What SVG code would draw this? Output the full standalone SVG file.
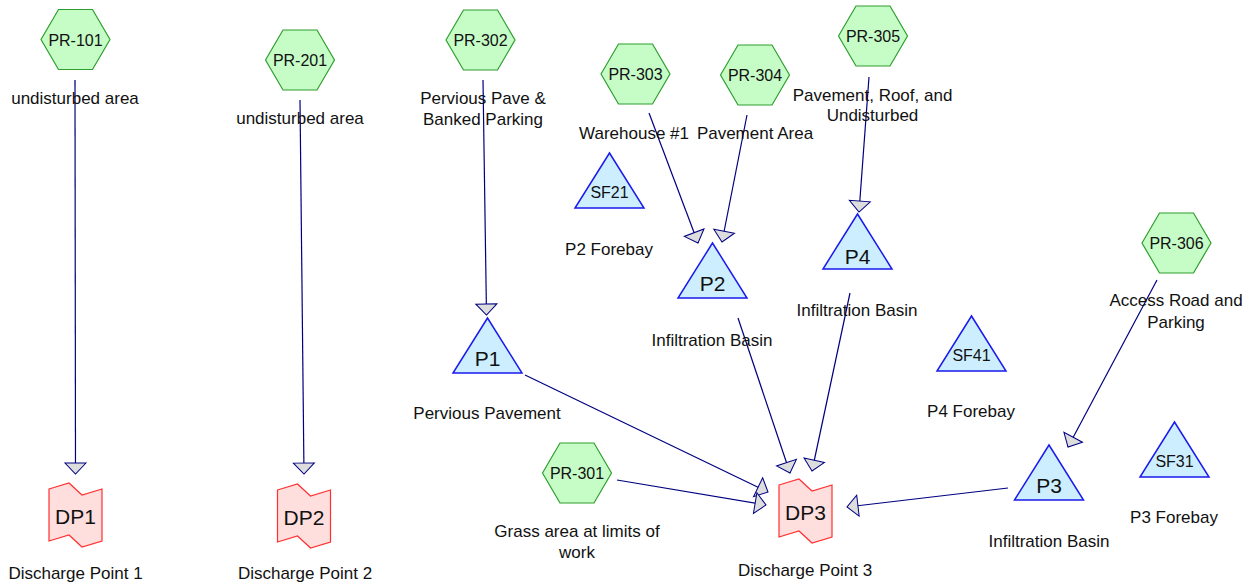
<svg xmlns="http://www.w3.org/2000/svg" width="1256" height="586" viewBox="0 0 1256 586">
<style>
.hex{fill:#c6fcc6;stroke:#2e9e2e;stroke-width:1.2}
.tri{fill:#cdeeff;stroke:#1a1aee;stroke-width:1.5}
.dp{fill:#ffdede;stroke:#ff3030;stroke-width:1.2}
.c{stroke:#000080;stroke-width:1.2;fill:none;marker-end:url(#ah)}
text{font-family:"Liberation Sans",Arial,sans-serif;fill:#111;text-anchor:middle}
.n{font-size:16px}
.b{font-size:21px}
.l{font-size:17px}
</style>
<defs>
<marker id="ah" viewBox="0 -12 13 24" markerWidth="13" markerHeight="24" refX="11" refY="0" orient="auto" markerUnits="userSpaceOnUse" overflow="visible">
<path d="M0,-10.5 L11,0 L0,10.5 Z" fill="#dddddd" stroke="#000080" stroke-width="1"/>
</marker>
<polygon id="hexs" points="-34.5,0 -17,-30 17,-30 34.5,0 17,30 -17,30"/>
<polygon id="tris" points="0,0 -34.5,55 34.5,55"/>
<polygon id="dps" points="-26.5,-26 -6.5,-32 6.5,-20 26.5,-26 26.5,26 6.5,32 -6.5,20 -26.5,26"/>
</defs>
<rect width="1256" height="586" fill="#ffffff"/>
<g id="connectors">
<line class="c" x1="75" y1="80" x2="75.5" y2="474"/>
<line class="c" x1="300" y1="100" x2="304" y2="474"/>
<line class="c" x1="483" y1="80" x2="486.5" y2="315"/>
<line class="c" x1="649" y1="113" x2="698" y2="243"/>
<line class="c" x1="747" y1="115" x2="722" y2="242"/>
<line class="c" x1="869" y1="77" x2="859" y2="212"/>
<line class="c" x1="1157" y1="280" x2="1068" y2="447"/>
<line class="c" x1="525" y1="375" x2="768" y2="492"/>
<line class="c" x1="617" y1="480" x2="766" y2="505"/>
<line class="c" x1="738" y1="318" x2="790" y2="473"/>
<line class="c" x1="850" y1="293" x2="812" y2="471"/>
<line class="c" x1="1008" y1="488" x2="847" y2="507"/>
</g>
<g id="PR-101"><use href="#hexs" class="hex" x="75.5" y="39.5"/><text class="n" x="75.5" y="45.5">PR-101</text><text class="l" x="75" y="104">undisturbed area</text></g>
<g id="PR-201"><use href="#hexs" class="hex" x="300" y="60"/><text class="n" x="300" y="66">PR-201</text><text class="l" x="300" y="124">undisturbed area</text></g>
<g id="PR-302"><use href="#hexs" class="hex" x="480.5" y="40"/><text class="n" x="480.5" y="46">PR-302</text><text class="l" x="483" y="104">Pervious Pave &amp;</text><text class="l" x="483" y="125">Banked Parking</text></g>
<g id="PR-303"><use href="#hexs" class="hex" x="635.5" y="74"/><text class="n" x="635.5" y="80">PR-303</text><text class="l" x="634" y="139">Warehouse #1</text></g>
<g id="PR-304"><use href="#hexs" class="hex" x="755" y="75"/><text class="n" x="755" y="81">PR-304</text><text class="l" x="755" y="139">Pavement Area</text></g>
<g id="PR-305"><use href="#hexs" class="hex" x="873" y="36"/><text class="n" x="873" y="42">PR-305</text><text class="l" x="872.5" y="101">Pavement, Roof, and</text><text class="l" x="872.5" y="121">Undisturbed</text></g>
<g id="PR-306"><use href="#hexs" class="hex" x="1176.5" y="243"/><text class="n" x="1176.5" y="249">PR-306</text><text class="l" x="1176" y="306">Access Road and</text><text class="l" x="1176" y="328">Parking</text></g>
<g id="PR-301"><use href="#hexs" class="hex" x="577" y="473"/><text class="n" x="577" y="479">PR-301</text><text class="l" x="577" y="537">Grass area at limits of</text><text class="l" x="577" y="558">work</text></g>
<g id="SF21"><use href="#tris" class="tri" x="609.5" y="153"/><text class="n" x="609.5" y="198">SF21</text><text class="l" x="609" y="255">P2 Forebay</text></g>
<g id="P2"><use href="#tris" class="tri" x="712.5" y="243"/><text class="b" x="712.5" y="290.5">P2</text><text class="l" x="712" y="346">Infiltration Basin</text></g>
<g id="P4"><use href="#tris" class="tri" x="857.5" y="214"/><text class="b" x="857.5" y="263.5">P4</text><text class="l" x="857" y="316">Infiltration Basin</text></g>
<g id="P1"><use href="#tris" class="tri" x="487.5" y="318"/><text class="b" x="487.5" y="365.5">P1</text><text class="l" x="487" y="419">Pervious Pavement</text></g>
<g id="SF41"><use href="#tris" class="tri" x="971.5" y="316"/><text class="n" x="971.5" y="361">SF41</text><text class="l" x="971" y="417">P4 Forebay</text></g>
<g id="P3"><use href="#tris" class="tri" x="1049" y="445"/><text class="b" x="1049" y="492.5">P3</text><text class="l" x="1049" y="547">Infiltration Basin</text></g>
<g id="SF31"><use href="#tris" class="tri" x="1174.5" y="422"/><text class="n" x="1174.5" y="467">SF31</text><text class="l" x="1174" y="523">P3 Forebay</text></g>
<g id="DP1"><use href="#dps" class="dp" x="75.5" y="515"/><text class="b" x="75.5" y="523.5">DP1</text><text class="l" x="75.5" y="579">Discharge Point 1</text></g>
<g id="DP2"><use href="#dps" class="dp" x="304" y="516"/><text class="b" x="304" y="524.5">DP2</text><text class="l" x="305" y="579">Discharge Point 2</text></g>
<g id="DP3"><use href="#dps" class="dp" x="805.5" y="511"/><text class="b" x="805.5" y="519.5">DP3</text><text class="l" x="805" y="576">Discharge Point 3</text></g>
</svg>
